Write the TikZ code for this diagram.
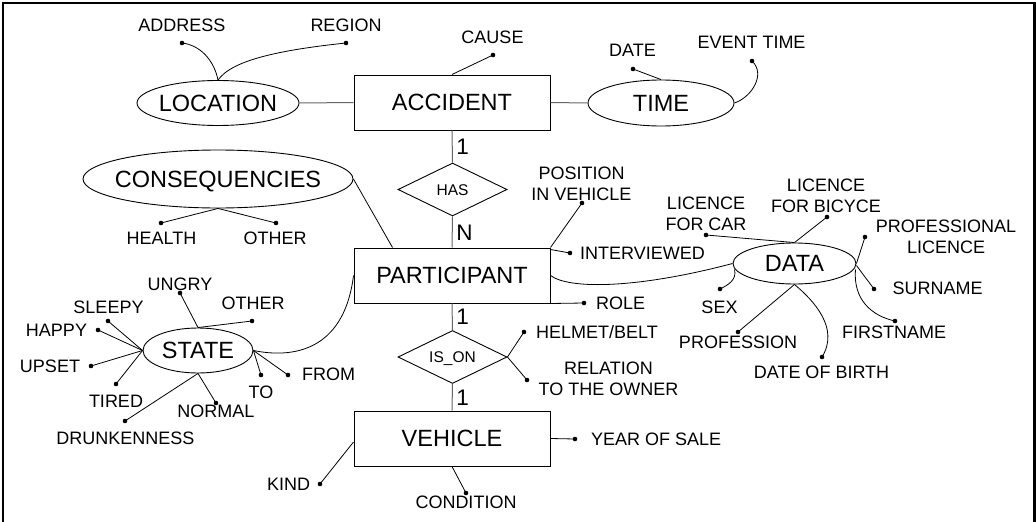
\documentclass[tikz,border=0pt]{standalone}
\usepackage{fontspec}
\setmainfont{Liberation Sans}
\usetikzlibrary{shapes.geometric}
\begin{document}
\begin{tikzpicture}[x=1pt,y=-1pt,
  lbl/.style={font=\fontsize{18}{21}\selectfont, inner sep=0pt, text height=12.9pt, text depth=0pt},
  lbltwo/.style={font=\fontsize{18}{21}\selectfont, inner sep=0pt, align=center},
  big/.style={font=\fontsize{23.5}{28}\selectfont, inner sep=0pt, text height=16.8pt, text depth=0pt},
  ent/.style={draw, line width=1pt, rectangle, minimum width=196pt, minimum height=55pt, big},
  ell/.style={draw, line width=0.9pt, ellipse, inner sep=0pt},
  rel/.style={draw, line width=0.9pt, diamond, aspect=2, inner sep=0pt, minimum width=109pt, minimum height=53pt, font=\fontsize{15.5}{18}\selectfont, text height=11.1pt, text depth=0pt},
  dot/.style={circle, fill, inner sep=0pt, minimum size=4.6pt},
  ln/.style={line width=0.8pt},
  link/.style={line width=1pt, draw=black!60},
  card/.style={font=\fontsize{22.5}{27}\selectfont, inner sep=0pt, text height=16.1pt, text depth=0pt},
]
\useasboundingbox (0,0) rectangle (1036,522);
\fill[white] (0,0) rectangle (1036,522);
\draw[line width=2.5pt] (3,530) -- (3,3) -- (1034.5,3) -- (1034.5,530);

% entities
\node[ent] (acc) at (452,102.5) {ACCIDENT};
\node[ent] (part) at (452,275.5) {PARTICIPANT};
\node[ent] (veh) at (452,438.5) {VEHICLE};

% relationships
\node[rel] (has) at (452.5,189.5) {HAS};
\node[rel] (ison) at (452.5,357) {IS\_ON};

% ellipses
\node[ell, minimum width=162pt, minimum height=45pt] (loc) at (218,103) {};
\node[big] (locT) at (loc) {LOCATION};
\node[ell, minimum width=146pt, minimum height=46pt] (time) at (661,103) {};
\node[big] (timeT) at (time) {TIME};
\node[ell, minimum width=270pt, minimum height=58pt] (cons) at (218,179) {};
\node[big] (consT) at (cons) {CONSEQUENCIES};
\node[ell, minimum width=123pt, minimum height=41pt] (data) at (794.5,263.5) {};
\node[big] (dataT) at (data) {DATA};
\node[ell, minimum width=110pt, minimum height=45pt] (state) at (198,350.5) {};
\node[big] (stateT) at (state) {STATE};

% main links
\draw[link] (loc.east) -- (acc.west);
\draw[link] (acc.east) -- (time.west);
\draw[link] (acc.south) -- (has.north) node[card, midway, right=3.5pt] (c1) {1};
\draw[link] (has.south) -- (part.north) node[card, midway, right=3.5pt] (c2) {N};
\draw[link] (part.south) -- (ison.north) node[card, midway, right=3.5pt] (c3) {1};
\draw[link] (ison.south) -- (veh.north) node[card, midway, right=3.5pt] (c4) {1};
\draw[ln] (cons.east) -- ([xshift=39pt]part.north west);
\draw[ln] (part.west) .. controls (345,345) and (300,360) .. (state.east);
\draw[ln] (part.east) .. controls (570,290) and (640,288) .. (data.west);

% location
\node[dot] (dAddr) at (182,43) {};
\node[lbl] (tAddr) at (182,25) {ADDRESS};
\draw[ln] (loc.north) .. controls (214,60) and (200,45) .. (dAddr.center);
\node[dot] (dReg) at (346,43) {};
\node[lbl] (tReg) at (346,25) {REGION};
\draw[ln] (loc.north) .. controls (232,60) and (280,50) .. (dReg.center);

% accident
\node[dot] (dCause) at (493,55) {};
\node[lbl] (tCause) at (492.5,37) {CAUSE};
\draw[ln] (acc.north) -- (dCause.center);

% time
\node[dot] (dDate) at (633,69) {};
\node[lbl] (tDate) at (632.5,50) {DATE};
\draw[ln] (time.north) -- (dDate.center);
\node[dot] (dEvt) at (752,61) {};
\node[lbl] (tEvt) at (751.5,42) {EVENT TIME};
\draw[ln] (time.east) .. controls (752,97) and (766,74) .. (dEvt.center);

% consequencies
\node[dot] (dHealth) at (161,223) {};
\node[lbl] (tHealth) at (161.5,238) {HEALTH};
\draw[ln] (cons.south) -- (dHealth.center);
\node[dot] (dCOther) at (276,223) {};
\node[lbl] (tCOther) at (275,238) {OTHER};
\draw[ln] (cons.south) -- (dCOther.center);

% participant
\node[dot] (dPos) at (582,203) {};
\node[lbltwo] (tPos) at (581.5,183.5) {POSITION\\IN VEHICLE};
\draw[ln] (part.north east) -- (dPos.center);
\node[dot] (dInt) at (570,253) {};
\node[lbl, anchor=west] (tInt) at (580,253) {INTERVIEWED};
\draw[ln] ([yshift=-2pt]part.north east) -- (dInt.center);
\node[dot] (dRole) at (584,303) {};
\node[lbl, anchor=west] (tRole) at (596,303) {ROLE};
\draw[ln] (part.south east) -- (dRole.center);

% is_on
\node[dot] (dHelm) at (524,332) {};
\node[lbl, anchor=west] (tHelm) at (536,332) {HELMET/BELT};
\draw[ln] (ison.east) -- (dHelm.center);
\node[dot] (dRelOwn) at (527,380) {};
\node[lbltwo] (tRelOwn) at (608.5,379) {RELATION\\TO THE OWNER};
\draw[ln] (ison.east) -- (dRelOwn.center);

% vehicle
\node[dot] (dYear) at (575,439) {};
\node[lbl, anchor=west] (tYear) at (591,439) {YEAR OF SALE};
\draw[ln] (veh.east) -- (dYear.center);
\node[dot] (dCond) at (466,493) {};
\node[lbl] (tCond) at (466,502) {CONDITION};
\draw[ln] (veh.south) -- (dCond.center);
\node[dot] (dKind) at (320,484) {};
\node[lbl] (tKind) at (288.5,484) {KIND};
\draw[ln] ([yshift=-3.5pt]veh.west) -- (dKind.center);

% data
\node[dot] (dLCar) at (706,235) {};
\node[lbltwo] (tLCar) at (706,214) {LICENCE\\FOR CAR};
\draw[ln] (data.north) -- (dLCar.center);
\node[dot] (dLBic) at (827,217) {};
\node[lbltwo] (tLBic) at (826,196) {LICENCE\\FOR BICYCE};
\draw[ln] (data.north) -- (dLBic.center);
\node[dot] (dProfL) at (865,237) {};
\node[lbltwo] (tProfL) at (946,236.5) {PROFESSIONAL\\LICENCE};
\draw[ln] (data.east) -- (dProfL.center);
\node[dot] (dSur) at (874,289) {};
\node[lbl] (tSur) at (937.5,288) {SURNAME};
\draw[ln] ([yshift=-2pt]data.east) -- (dSur.center);
\node[dot] (dFirst) at (895,321) {};
\node[lbl] (tFirst) at (894,332) {FIRSTNAME};
\draw[ln] ([xshift=-1pt,yshift=-6pt]data.east) .. controls (853,300) and (872,316) .. (dFirst.center);
\node[dot] (dSex) at (720,289) {};
\node[lbl] (tSex) at (719.5,307) {SEX};
\draw[ln] ([xshift=2pt,yshift=-6pt]data.west) .. controls (737,280) and (728,285) .. (dSex.center);
\node[dot] (dProf) at (738,332) {};
\node[lbl] (tProf) at (738,342) {PROFESSION};
\draw[ln] (data.south) -- (dProf.center);
\node[dot] (dBirth) at (822,357) {};
\node[lbl] (tBirth) at (821.5,372) {DATE OF BIRTH};
\draw[ln] (data.south) .. controls (813,300) and (840,328) .. (dBirth.center);

% state
\node[dot] (dUng) at (180,293) {};
\node[lbl] (tUng) at (180,284) {UNGRY};
\draw[ln] (state.north) -- (dUng.center);
\node[dot] (dSOther) at (252,321) {};
\node[lbl] (tSOther) at (253,303) {OTHER};
\draw[ln] (state.north) -- (dSOther.center);
\node[dot] (dSleep) at (108,321) {};
\node[lbl] (tSleep) at (108.5,307) {SLEEPY};
\draw[ln] (state.west) -- (dSleep.center);
\node[dot] (dHappy) at (98,330) {};
\node[lbl] (tHappy) at (56.5,330) {HAPPY};
\draw[ln] (state.west) -- (dHappy.center);
\node[dot] (dUpset) at (91,366) {};
\node[lbl] (tUpset) at (50,366) {UPSET};
\draw[ln] (state.west) -- (dUpset.center);
\node[dot] (dTired) at (116,384) {};
\node[lbl] (tTired) at (116,401) {TIRED};
\draw[ln] (state.west) -- (dTired.center);
\node[dot] (dDrunk) at (125,421) {};
\node[lbl] (tDrunk) at (125.5,438) {DRUNKENNESS};
\draw[ln] (state.south) -- (dDrunk.center);
\node[dot] (dNorm) at (216,403) {};
\node[lbl] (tNorm) at (216,411) {NORMAL};
\draw[ln] (state.south) -- (dNorm.center);
\node[dot] (dTo) at (261,375) {};
\node[lbl] (tTo) at (261,392) {TO};
\draw[ln] (state.east) -- (dTo.center);
\node[dot] (dFrom) at (288,375) {};
\node[lbl, anchor=west] (tFrom) at (302,374) {FROM};
\draw[ln] (state.east) -- (dFrom.center);
\end{tikzpicture}
\end{document}
